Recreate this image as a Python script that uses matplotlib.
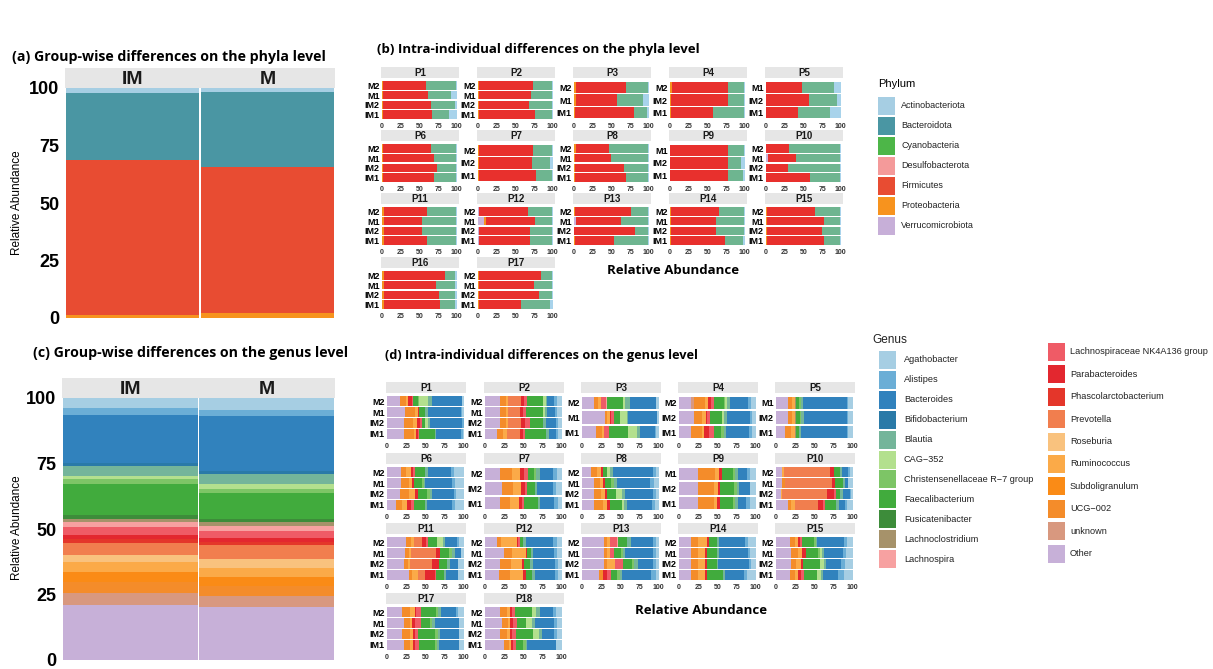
import numpy as np
import matplotlib
matplotlib.use("Agg")
import matplotlib.pyplot as plt
from matplotlib.patches import Rectangle

W, H = 1213, 669
plt.rcParams['font.family'] = ['Liberation Sans', 'DejaVu Sans']

# ---------------- phylum level ----------------
phyla = ["Actinobacteriota", "Bacteroidota", "Cyanobacteria", "Desulfobacterota",
         "Firmicutes", "Proteobacteria", "Verrucomicrobiota"]
phyla_colors = ["#A6CEE3", "#4A96A3", "#4DB648", "#F49A9A", "#E84C32", "#F7931E", "#C7AFD8"]

# (a) group-wise, stacked bottom -> top
group_names = ["IM", "M"]
stack_a = ["Proteobacteria", "Firmicutes", "Bacteroidota", "Actinobacteriota"]
a_IM = [1.5, 67.2, 29.1, 2.2]
a_M = [2.2, 63.4, 32.7, 1.7]

# (b) per individual, stacked left -> right
stack_b = ["Verrucomicrobiota", "Proteobacteria", "Firmicutes", "Bacteroidota", "Actinobacteriota"]
colors_b = ["#C9B3DA", "#F5921E", "#E8302D", "#6EB590", "#A8D3EB"]
b_P1 = {"M2": [0, 1, 58, 40, 1], "M1": [0, 1, 61, 30, 8], "IM2": [0, 1, 65, 32, 2], "IM1": [0, 1, 66, 23, 10]}
b_P2 = {"M2": [0, 1, 73, 25.5, 0.5], "M1": [0, 1, 70, 28.5, 0.5], "IM2": [0, 1, 67, 31.5, 0.5], "IM1": [0, 1, 75, 23.5, 0.5]}
b_P3 = {"M2": [0, 3, 66, 30, 1], "M1": [0, 3, 55, 34, 8], "IM1": [0, 1, 79, 18, 2]}
b_P4 = {"M2": [0, 3, 74, 22.5, 0.5], "IM2": [0, 1, 76, 22.5, 0.5], "IM1": [0, 1, 57, 41.5, 0.5]}
b_P5 = {"M1": [0, 0.5, 47.5, 43, 9], "IM2": [0, 0.5, 56.5, 38, 5], "IM1": [0, 0.5, 42.5, 42, 15]}
b_P6 = {"M2": [0, 1, 65, 33.5, 0.5], "M1": [0, 1, 69, 29.5, 0.5], "IM2": [0, 1, 73, 25.5, 0.5], "IM1": [0, 1, 68, 30.5, 0.5]}
b_P7 = {"M2": [0, 1, 73, 25.5, 0.5], "IM2": [0, 1, 71, 24, 4], "IM1": [0, 1, 76, 22.5, 0.5]}
b_P8 = {"M2": [0, 3, 44, 52.5, 0.5], "M1": [0, 1, 49, 49.5, 0.5], "IM2": [0, 1, 66, 32.5, 0.5], "IM1": [0, 1, 68, 30.5, 0.5]}
b_P9 = {"M1": [0, 0.5, 76.5, 22.5, 0.5], "IM2": [0, 0.5, 76.5, 18, 5], "IM1": [0, 0.5, 76.5, 21, 2]}
b_P10 = {"M2": [0, 0.5, 29.5, 69, 1], "M1": [2, 0.5, 37.5, 59, 1], "IM2": [0, 0.5, 28.5, 70, 1], "IM1": [0, 0.5, 58.5, 40, 1]}
b_P11 = {"M2": [0, 2, 58, 39, 1], "M1": [0, 2, 51, 46, 1], "IM2": [0, 2, 52, 45, 1], "IM1": [0, 2, 58, 39, 1]}
b_P12 = {"M2": [1, 0.5, 65.5, 32.5, 0.5], "M1": [8, 2, 66, 23.5, 0.5], "IM2": [1, 0.5, 68.5, 29.5, 0.5], "IM1": [1, 0.5, 68.5, 29.5, 0.5]}
b_P13 = {"M2": [0, 1, 75, 23.5, 0.5], "M1": [2, 1, 60, 36.5, 0.5], "IM2": [0, 0.5, 81.5, 17.5, 0.5], "IM1": [0, 1, 53, 45.5, 0.5]}
b_P14 = {"M2": [0, 1.5, 63.5, 34.5, 0.5], "M1": [0, 1.5, 60.5, 37.5, 0.5], "IM2": [0, 1.5, 60.5, 37.5, 0.5], "IM1": [0, 1.5, 72.5, 24, 2]}
b_P15 = {"M2": [0, 1, 64, 34.5, 0.5], "M1": [0, 1, 76, 22.5, 0.5], "IM2": [0, 1, 74, 24.5, 0.5], "IM1": [0, 1, 76, 22.5, 0.5]}
b_P16 = {"M2": [0, 2, 82, 14, 2], "M1": [0, 2, 70, 26, 2], "IM2": [0, 2, 74, 22, 2], "IM1": [0, 2, 76, 20, 2]}
b_P17 = {"M2": [0, 1, 83, 15, 1], "M1": [0, 1, 74, 24, 1], "IM2": [0, 1, 81, 17, 1], "IM1": [0, 1, 57, 38, 4]}

# ---------------- genus level ----------------
genera = ["Agathobacter", "Alistipes", "Bacteroides", "Bifidobacterium", "Blautia", "CAG\u2212352",
          "Christensenellaceae R\u22127 group", "Faecalibacterium", "Fusicatenibacter",
          "Lachnoclostridium", "Lachnospira", "Lachnospiraceae NK4A136 group", "Parabacteroides",
          "Phascolarctobacterium", "Prevotella", "Roseburia", "Ruminococcus", "Subdoligranulum",
          "UCG\u2212002", "unknown", "Other"]
genus_codes = ["Aga", "Ali", "Bac", "Bif", "Bla", "CAG", "Chr", "Fae", "Fus", "Lcl", "Lsp",
               "NK", "Par", "Pha", "Pre", "Ros", "Rum", "Sub", "UCG", "unk", "Oth"]
genus_colors = ["#A6CEE3", "#6BAED6", "#3182BD", "#2A7AA8", "#74B59A", "#B3E08E", "#7DC566",
                "#41AB3D", "#3D8C3A", "#A6926A", "#F7A1A1", "#EF5B66", "#E3272F", "#E4362A",
                "#F17E4E", "#F9C27E", "#FBAA48", "#FA8B16", "#F48C2A", "#D8987F", "#C7B0D8"]

# (c) group-wise, in legend order
c_IM = [3.8, 2.6, 18.4, 1.0, 3.8, 1.5, 1.7, 11.9, 1.3, 1.5, 1.9, 2.9, 1.5, 1.5, 4.6, 2.6, 4.1, 3.8, 4.2, 4.3, 21.1]
c_M = [4.7, 2.2, 21.1, 1.0, 3.8, 1.9, 1.7, 9.6, 1.3, 1.5, 1.9, 2.9, 1.3, 1.2, 5.5, 3.2, 3.5, 3.6, 3.8, 4.2, 20.1]

# (d) per individual
d_P1 = {"M2": {"Oth": 17, "UCG": 8, "Rum": 2, "Par": 5, "NK": 2, "Fae": 6, "CAG": 12, "Chr": 2, "Bla": 4, "Bac": 40, "Aga": 2},
        "M1": {"Oth": 23, "UCG": 14, "Rum": 3, "Par": 2, "Fae": 8, "Bla": 4, "Bac": 42, "Ali": 2, "Aga": 2},
        "IM2": {"Oth": 22, "UCG": 12, "Rum": 5, "Par": 4, "NK": 2, "Fae": 4, "CAG": 4, "Bla": 3, "Bac": 42, "Ali": 2},
        "IM1": {"Oth": 22, "UCG": 13, "Rum": 3, "Par": 2, "NK": 2, "Fae": 20, "Bla": 2, "Bac": 33, "Ali": 2, "Aga": 1}}
d_P2 = {"M2": {"Oth": 20, "UCG": 7, "Rum": 3, "Pre": 17, "Par": 4, "NK": 4, "Fae": 20, "CAG": 4, "Bla": 2, "Bac": 9, "Ali": 4, "Aga": 6},
        "M1": {"Oth": 20, "UCG": 7, "Rum": 3, "Pre": 16, "Par": 3, "NK": 4, "Fae": 22, "CAG": 3, "Bla": 3, "Bac": 10, "Ali": 3, "Aga": 6},
        "IM2": {"Oth": 20, "UCG": 7, "Rum": 3, "Pre": 17, "Par": 5, "NK": 6, "Fae": 18, "Bla": 4, "Bac": 12, "Ali": 3, "Aga": 5},
        "IM1": {"Oth": 15, "UCG": 8, "Rum": 5, "Pre": 18, "Par": 4, "NK": 2, "Fae": 28, "Bla": 4, "Bac": 8, "Ali": 3, "Aga": 5}}
d_P3 = {"M2": {"Oth": 15, "UCG": 6, "Rum": 4, "NK": 6, "Lsp": 2, "Fae": 20, "CAG": 3, "Bla": 6, "Bac": 34, "Aga": 4},
        "M1": {"Oth": 30, "UCG": 3, "Rum": 4, "Par": 1, "NK": 4, "Fae": 8, "CAG": 8, "Bla": 2, "Bac": 38, "Aga": 2},
        "IM1": {"Oth": 18, "UCG": 8, "Rum": 3, "NK": 6, "Fae": 25, "CAG": 12, "Bla": 3, "Bac": 20, "Ali": 2, "Aga": 3}}
d_P4 = {"M2": {"Oth": 16, "unk": 3, "UCG": 15, "Rum": 4, "Par": 4, "NK": 4, "Fae": 12, "Chr": 2, "CAG": 3, "Bla": 3, "Bac": 24, "Ali": 4, "Aga": 6},
        "IM2": {"Oth": 20, "UCG": 10, "Rum": 5, "Par": 2, "NK": 3, "Fae": 16, "CAG": 3, "Bla": 3, "Bac": 30, "Ali": 3, "Aga": 5},
        "IM1": {"Oth": 15, "UCG": 15, "Rum": 3, "Par": 6, "NK": 6, "Fae": 10, "Chr": 3, "Bla": 3, "Bac": 30, "Ali": 4, "Aga": 5}}
d_P5 = {"M1": {"Oth": 15, "UCG": 6, "Rum": 3, "Lcl": 2, "Fae": 4, "Chr": 3, "Bla": 2, "Bac": 57, "Ali": 2, "Aga": 6},
        "IM2": {"Oth": 16, "UCG": 5, "Rum": 3, "Lcl": 2, "Fae": 5, "Chr": 2, "Bla": 4, "Bac": 55, "Ali": 2, "Aga": 6},
        "IM1": {"Oth": 12, "UCG": 8, "Rum": 4, "Lcl": 2, "Fae": 4, "Bla": 2, "Bac": 60, "Ali": 2, "Aga": 6}}
d_P6 = {"M2": {"Oth": 18, "UCG": 7, "Rum": 6, "Par": 3, "NK": 2, "Fae": 14, "Bla": 4, "Bac": 30, "Ali": 3, "Aga": 13},
        "M1": {"Oth": 18, "UCG": 10, "Rum": 4, "Par": 3, "Fae": 10, "Chr": 3, "Bla": 2, "Bac": 35, "Ali": 3, "Aga": 12},
        "IM2": {"Oth": 17, "UCG": 12, "Rum": 8, "Par": 3, "Fae": 12, "Chr": 4, "Bla": 3, "Bac": 28, "Ali": 3, "Aga": 10},
        "IM1": {"Oth": 12, "UCG": 8, "Rum": 6, "Par": 5, "NK": 4, "Fae": 14, "Bla": 3, "Bac": 33, "Ali": 3, "Aga": 12}}
d_P7 = {"M2": {"Oth": 20, "UCG": 15, "Rum": 10, "Par": 6, "NK": 5, "Fae": 8, "Chr": 3, "Bla": 4, "Bac": 17, "Ali": 6, "Aga": 6},
        "IM2": {"Oth": 22, "UCG": 15, "Rum": 10, "Par": 5, "NK": 3, "Fae": 10, "Bla": 3, "Bac": 20, "Ali": 5, "Aga": 7},
        "IM1": {"Oth": 20, "UCG": 12, "Rum": 12, "Par": 4, "NK": 3, "Fae": 18, "Bla": 3, "Bac": 18, "Ali": 5, "Aga": 5}}
d_P8 = {"M2": {"Oth": 12, "UCG": 8, "Rum": 4, "Par": 3, "Fae": 6, "CAG": 4, "Bla": 3, "Bac": 52, "Ali": 4, "Aga": 4},
        "M1": {"Oth": 15, "UCG": 8, "Rum": 4, "Par": 3, "Fae": 8, "Chr": 4, "Bla": 3, "Bac": 44, "Ali": 5, "Aga": 6},
        "IM2": {"Oth": 15, "UCG": 10, "Rum": 5, "Par": 2, "Fae": 12, "CAG": 8, "Bla": 4, "Bac": 36, "Ali": 4, "Aga": 4},
        "IM1": {"Oth": 15, "UCG": 12, "Rum": 6, "Par": 3, "Fae": 16, "CAG": 3, "Bla": 4, "Bac": 32, "Ali": 4, "Aga": 5}}
d_P9 = {"M1": {"Oth": 25, "UCG": 22, "Rum": 5, "Par": 4, "Fae": 14, "Chr": 3, "Bla": 4, "Bac": 12, "Ali": 4, "Aga": 7},
        "IM2": {"Oth": 25, "UCG": 20, "Rum": 6, "Par": 3, "Fae": 17, "Chr": 4, "Bla": 3, "Bac": 14, "Aga": 8},
        "IM1": {"Oth": 25, "UCG": 20, "Rum": 5, "Par": 4, "Fae": 16, "Chr": 3, "Bla": 4, "Bac": 10, "Ali": 5, "Aga": 8}}
d_P10 = {"M2": {"Oth": 7, "Rum": 3, "Pre": 60, "Par": 6, "Fae": 8, "Bla": 2, "Bac": 8, "Ali": 2, "Aga": 4},
         "M1": {"Oth": 7, "UCG": 4, "Pre": 62, "Par": 4, "Fae": 10, "Bla": 3, "Bac": 4, "Aga": 6},
         "IM2": {"Oth": 6, "Rum": 2, "Pre": 58, "Par": 10, "NK": 2, "Fae": 6, "Bla": 3, "Bac": 9, "Ali": 2, "Aga": 2},
         "IM1": {"Oth": 15, "UCG": 5, "Rum": 5, "Pre": 30, "Par": 6, "NK": 3, "Fae": 14, "Bla": 4, "Bac": 8, "Ali": 3, "Aga": 7}}
d_P11 = {"M2": {"Oth": 25, "UCG": 6, "Rum": 4, "Pre": 10, "Par": 6, "NK": 2, "Fae": 12, "CAG": 8, "Bla": 3, "Bac": 15, "Ali": 3, "Aga": 6},
         "M1": {"Oth": 23, "UCG": 5, "Rum": 3, "Pre": 33, "Par": 5, "Fae": 12, "Chr": 4, "Bla": 3, "Bac": 8, "Aga": 4},
         "IM2": {"Oth": 22, "UCG": 5, "Rum": 3, "Pre": 28, "Par": 10, "Fae": 10, "Bla": 4, "Bac": 10, "Aga": 8},
         "IM1": {"Oth": 28, "UCG": 5, "Rum": 7, "Pre": 10, "Par": 12, "NK": 2, "Fae": 10, "Bla": 3, "Bac": 15, "Aga": 8}}
d_P12 = {"M2": {"Oth": 15, "UCG": 6, "Rum": 20, "Par": 2, "NK": 2, "Fae": 5, "Bla": 3, "Bac": 36, "Ali": 5, "Aga": 6},
         "M1": {"Oth": 25, "UCG": 10, "Rum": 18, "Par": 2, "Fae": 5, "Bla": 3, "Bac": 27, "Ali": 4, "Aga": 6},
         "IM2": {"Oth": 20, "UCG": 14, "Rum": 14, "Par": 3, "Fae": 8, "Bla": 4, "Bac": 28, "Ali": 4, "Aga": 5},
         "IM1": {"Oth": 18, "UCG": 15, "Rum": 16, "Par": 4, "Fae": 8, "Bla": 4, "Bac": 26, "Ali": 4, "Aga": 5}}
d_P13 = {"M2": {"Oth": 28, "UCG": 5, "Rum": 4, "NK": 8, "Lsp": 2, "Fae": 12, "Bla": 5, "Bac": 28, "Ali": 4, "Aga": 4},
         "M1": {"Oth": 28, "UCG": 5, "Rum": 3, "NK": 5, "Fae": 10, "Chr": 3, "Bla": 2, "Bac": 36, "Ali": 4, "Aga": 4},
         "IM2": {"Oth": 28, "UCG": 5, "Rum": 10, "NK": 10, "Fae": 12, "Chr": 3, "Bla": 5, "Bac": 20, "Ali": 3, "Aga": 4},
         "IM1": {"Oth": 22, "UCG": 5, "Par": 6, "NK": 5, "Fae": 8, "Chr": 4, "Bla": 2, "Bac": 38, "Ali": 6, "Aga": 4}}
d_P14 = {"M2": {"Oth": 16, "UCG": 8, "Rum": 12, "Par": 3, "Fae": 10, "Bla": 3, "Bac": 34, "Ali": 4, "Aga": 10},
         "M1": {"Oth": 16, "UCG": 8, "Rum": 10, "Par": 3, "Fae": 12, "Bla": 3, "Bac": 38, "Ali": 2, "Aga": 8},
         "IM2": {"Oth": 16, "UCG": 8, "Rum": 10, "Par": 3, "Fae": 12, "Bla": 2, "Bac": 40, "Ali": 3, "Aga": 6},
         "IM1": {"Oth": 16, "UCG": 8, "Rum": 10, "Par": 3, "Fae": 20, "Bla": 3, "Bac": 25, "Ali": 3, "Aga": 12}}
d_P15 = {"M2": {"Oth": 18, "UCG": 6, "Rum": 4, "Par": 3, "NK": 3, "Fae": 16, "Chr": 2, "Bla": 2, "Bac": 34, "Ali": 5, "Aga": 7},
         "M1": {"Oth": 20, "UCG": 8, "Rum": 6, "Par": 5, "Fae": 16, "Chr": 2, "CAG": 3, "Bla": 3, "Bac": 24, "Ali": 4, "Aga": 9},
         "IM2": {"Oth": 20, "UCG": 6, "Rum": 6, "Par": 3, "Fae": 22, "CAG": 5, "Bla": 3, "Bac": 20, "Ali": 5, "Aga": 10},
         "IM1": {"Oth": 18, "UCG": 7, "Rum": 4, "Par": 4, "NK": 3, "Fae": 18, "CAG": 4, "Bla": 3, "Bac": 20, "Ali": 7, "Aga": 12}}
d_P17 = {"M2": {"Oth": 20, "UCG": 10, "Rum": 6, "Par": 2, "NK": 6, "Fae": 20, "Chr": 3, "Bla": 3, "Bac": 20, "Ali": 3, "Aga": 7},
         "M1": {"Oth": 22, "UCG": 8, "Rum": 3, "Par": 3, "NK": 8, "Fae": 12, "Chr": 3, "Bla": 3, "Bac": 32, "Aga": 6},
         "IM2": {"Oth": 20, "UCG": 10, "Rum": 4, "Par": 3, "NK": 3, "Fae": 22, "Chr": 4, "Bla": 3, "Bac": 25, "Aga": 6},
         "IM1": {"Oth": 22, "UCG": 8, "Rum": 4, "Par": 2, "NK": 6, "Fae": 20, "Chr": 3, "Bla": 3, "Bac": 26, "Aga": 6}}
d_P18 = {"M2": {"Oth": 20, "UCG": 8, "Rum": 4, "Par": 3, "NK": 4, "Fae": 22, "CAG": 6, "Bla": 5, "Bac": 16, "Ali": 5, "Aga": 7},
         "M1": {"Oth": 22, "UCG": 8, "Rum": 3, "Par": 3, "NK": 5, "Fae": 12, "CAG": 8, "Bla": 4, "Bac": 25, "Ali": 4, "Aga": 6},
         "IM2": {"Oth": 20, "UCG": 8, "Rum": 4, "Par": 3, "NK": 5, "Fae": 22, "CAG": 8, "Bla": 4, "Bac": 16, "Ali": 4, "Aga": 6},
         "IM1": {"Oth": 25, "UCG": 6, "Rum": 3, "Par": 3, "NK": 3, "Fae": 10, "Chr": 3, "Bla": 2, "Bac": 38, "Aga": 7}}

phyla_facets = [("P1", b_P1), ("P2", b_P2), ("P3", b_P3), ("P4", b_P4), ("P5", b_P5),
                ("P6", b_P6), ("P7", b_P7), ("P8", b_P8), ("P9", b_P9), ("P10", b_P10),
                ("P11", b_P11), ("P12", b_P12), ("P13", b_P13), ("P14", b_P14), ("P15", b_P15),
                ("P16", b_P16), ("P17", b_P17)]
genus_facets = [("P1", d_P1), ("P2", d_P2), ("P3", d_P3), ("P4", d_P4), ("P5", d_P5),
                ("P6", d_P6), ("P7", d_P7), ("P8", d_P8), ("P9", d_P9), ("P10", d_P10),
                ("P11", d_P11), ("P12", d_P12), ("P13", d_P13), ("P14", d_P14), ("P15", d_P15),
                ("P17", d_P17), ("P18", d_P18)]

STRIP = "#E6E6E6"
TITLE_FONT = ['Open Sans', 'DejaVu Sans']
NARROW = ['Liberation Sans Narrow', 'Liberation Sans']

fig = plt.figure(figsize=(W / 100, H / 100), dpi=100)


def px_axes(x0, y0, x1, y1):
    return fig.add_axes([x0 / W, 1 - y1 / H, (x1 - x0) / W, (y1 - y0) / H])


def clean(ax):
    for s in ax.spines.values():
        s.set_visible(False)


def strip(x0, y0, x1, y1, labels, size, xs=None):
    sax = px_axes(x0, y0, x1, y1)
    sax.set_facecolor(STRIP)
    clean(sax)
    sax.set_xticks([])
    sax.set_yticks([])
    if xs is None:
        xs = [0.5]
    for t, xx in zip(labels, xs):
        sax.text(xx, 0.45, t, ha="center", va="center", fontsize=size,
                 fontweight="bold", color="#1a1a1a", transform=sax.transAxes)


def group_panel(x0, y0, x1, y1, cols, colors):
    # cols: list of value lists for IM, M in stacking order bottom->top
    strip(x0, y0 - 20, x1, y0, group_names, 14, xs=[0.25, 0.75])
    ax = px_axes(x0, y0, x1, y1)
    clean(ax)
    xpos = np.arange(len(group_names))
    bottom = np.zeros(len(group_names))
    for k in range(len(cols[0])):
        vals = np.array([c[k] for c in cols])
        ax.bar(xpos, vals, bottom=bottom, width=0.99, color=colors[k], linewidth=0)
        bottom += vals
    ax.set_xlim(-0.5, 1.5)
    ax.set_ylim(0, bottom.max())
    ax.set_xticks([])
    ax.set_yticks([0, 25, 50, 75, 100])
    ax.tick_params(axis="y", length=0, pad=4, labelsize=13)
    for lab in ax.get_yticklabels():
        lab.set_fontweight("bold")
    return ax


def facet(x0, ys, w, sh, ph, label, samples, values_of, colors):
    strip(x0, ys, x0 + w, ys + sh, [label], 7)
    ax = px_axes(x0, ys + sh + 2, x0 + w, ys + sh + 2 + ph)
    clean(ax)
    names = list(samples)
    n = len(names)
    ypos = np.arange(n)[::-1]
    left = np.zeros(n)
    for k, c in enumerate(colors):
        vals = np.array([values_of(samples[s], k) for s in names], dtype=float)
        ax.barh(ypos, vals, left=left, height=0.86, color=c, linewidth=0)
        left += vals
    ax.set_xlim(-1.5, 103)
    ax.set_ylim(-0.55, n - 0.45)
    ax.set_yticks(ypos, names)
    ax.set_xticks([0, 25, 50, 75, 100])
    ax.tick_params(axis="y", length=0, pad=1, labelsize=6.5)
    ax.tick_params(axis="x", length=0, pad=2, labelsize=5, labelcolor="#333333")
    for lab in ax.get_yticklabels() + ax.get_xticklabels():
        lab.set_fontweight("bold")
    return ax


# ---- (a) ----
a_colors = [phyla_colors[phyla.index(p)] for p in stack_a]
group_panel(65, 88, 335, 318, [a_IM, a_M], a_colors)

# ---- (c) ----
c_colors = genus_colors[::-1]
group_panel(62, 398, 335, 660, [c_IM[::-1], c_M[::-1]], c_colors)

# ---- (b) ----
b_cols = [381, 477, 573, 669, 765]
b_rows = [67, 130, 193, 257]
for i, (lab, smp) in enumerate(phyla_facets):
    facet(b_cols[i % 5], b_rows[i // 5], 78, 11, 40, lab, smp,
          lambda d, k: d[k], colors_b)

# ---- (d) ----
d_cols = [386, 484, 581, 678, 775]
d_rows = [382, 453, 523, 593]
stack_codes = genus_codes[::-1]
for i, (lab, smp) in enumerate(genus_facets):
    facet(d_cols[i % 5], d_rows[i // 5], 80, 11, 45, lab, smp,
          lambda d, k: d.get(stack_codes[k], 0), c_colors)

# ---- overlay: titles, axis labels, legends ----
ov = fig.add_axes([0, 0, 1, 1])
ov.set_xlim(0, W)
ov.set_ylim(H, 0)
ov.axis("off")
ov.patch.set_alpha(0)

ov.text(12, 57, "(a) Group-wise differences on the phyla level", fontsize=10.2,
        fontweight="bold", family=TITLE_FONT, va="center")
ov.text(377, 50, "(b) Intra-individual differences on the phyla level", fontsize=9.5,
        fontweight="bold", family=TITLE_FONT, va="center")
ov.text(33, 353, "(c) Group-wise differences on the genus level", fontsize=10.2,
        fontweight="bold", family=TITLE_FONT, va="center")
ov.text(385, 355, "(d) Intra-individual differences on the genus level", fontsize=9.2,
        fontweight="bold", family=TITLE_FONT, va="center")
ov.text(17, 203, "Relative Abundance", fontsize=8.5, rotation=90, ha="center", va="center")
ov.text(17, 528, "Relative Abundance", fontsize=8.5, rotation=90, ha="center", va="center")
ov.text(673, 271, "Relative Abundance", fontsize=9.5, fontweight="bold",
        family=TITLE_FONT, ha="center", va="center")
ov.text(701, 610, "Relative Abundance", fontsize=9.5, fontweight="bold",
        family=TITLE_FONT, ha="center", va="center")

# phylum legend
ov.text(878, 84, "Phylum", fontsize=8, family=NARROW, va="center")
for i, (name, c) in enumerate(zip(phyla, phyla_colors)):
    y = 97 + i * 20
    ov.add_patch(Rectangle((878, y), 17, 18, color=c, linewidth=0))
    ov.text(901, y + 9, name, fontsize=6.5, family=NARROW, va="center", color="#222222")

# genus legend
ov.text(872, 340, "Genus", fontsize=8.5, va="center", color="#222222")
for i, (name, c) in enumerate(zip(genera, genus_colors)):
    if i < 11:
        kx, ky, tx = 879, 351 + i * 19.9, 904
    else:
        kx, ky, tx = 1048, 343 + (i - 11) * 22.4, 1070
    ov.add_patch(Rectangle((kx, ky), 17, 18, color=c, linewidth=0))
    ov.text(tx, ky + 9, name, fontsize=6.6, va="center", color="#222222")

fig.savefig("out.png", dpi=100)
